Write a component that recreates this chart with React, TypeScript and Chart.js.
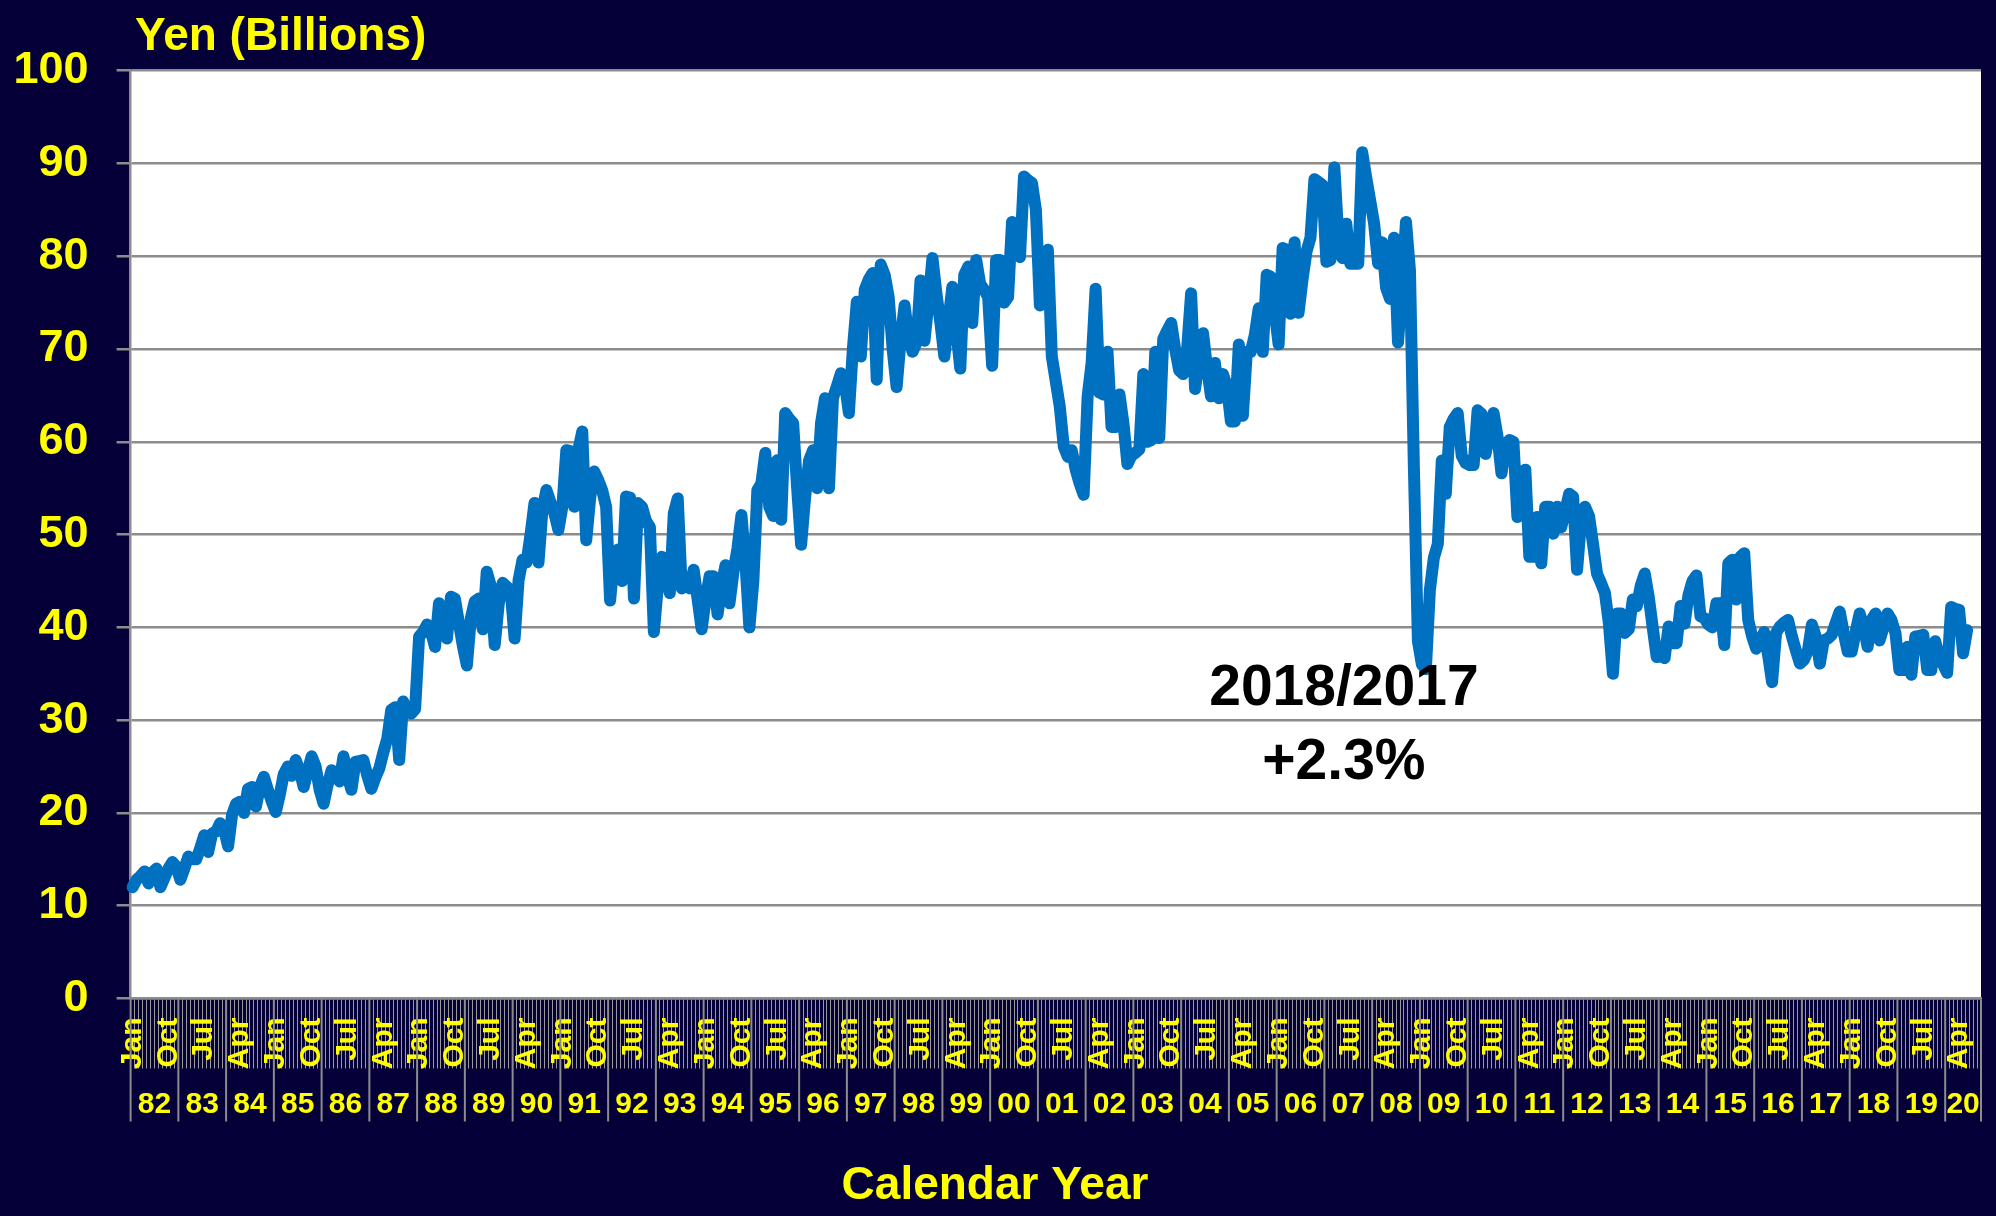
import React, { useEffect, useRef } from 'react';
import { Chart, registerables } from 'chart.js';

Chart.register(...registerables);

const FONT = '"Liberation Sans", Arial, Helvetica, sans-serif';
const NAVY = '#050038';
const YELLOW = '#ffff00';
const GRAY = '#8c8c8c';

const MONTHS = ['Jan', 'Feb', 'Mar', 'Apr', 'May', 'Jun', 'Jul', 'Aug', 'Sep', 'Oct', 'Nov', 'Dec'];
const YEAR_LABELS = ['82', '83', '84', '85', '86', '87', '88', '89', '90', '91', '92', '93', '94', '95', '96', '97', '98', '99', '00', '01', '02', '03', '04', '05', '06', '07', '08', '09', '10', '11', '12', '13', '14', '15', '16', '17', '18', '19', '20'];
const MONTHS_IN_LAST_YEAR = 9; // axis runs Jan 1982 .. Sep 2020
const LABEL_EVERY = 9;
const Y_TICKS = [0, 10, 20, 30, 40, 50, 60, 70, 80, 90, 100];

// Monthly values, Yen (Billions)
const v1982 = [12.0, 12.8, 13.2, 13.7, 12.4, 13.6, 14.0, 12.0, 13.0, 14.0, 14.7, 14.2];
const v1983 = [12.8, 14.0, 15.3, 15.0, 15.0, 16.2, 17.6, 15.8, 17.8, 18.0, 18.9, 18.2];
const v1984 = [16.4, 19.8, 21.0, 21.2, 20.0, 22.6, 22.8, 20.7, 22.8, 23.9, 22.5, 21.2];
const v1985 = [20.1, 22.0, 24.2, 25.0, 24.0, 25.7, 24.5, 22.8, 24.5, 26.1, 25.0, 22.5];
const v1986 = [21.0, 23.0, 24.6, 24.2, 23.4, 26.1, 24.0, 22.5, 25.5, 25.6, 25.7, 24.0];
const v1987 = [22.6, 23.8, 24.8, 26.5, 28.0, 31.1, 31.4, 25.7, 32.0, 31.0, 30.7, 31.2];
const v1988 = [39.0, 39.5, 40.3, 39.5, 37.9, 42.6, 41.0, 38.8, 43.3, 43.1, 40.5, 38.0];
const v1989 = [35.9, 41.0, 42.8, 43.1, 39.8, 46.0, 44.5, 38.1, 42.5, 44.8, 44.4, 44.0];
const v1990 = [38.8, 45.1, 47.3, 47.0, 50.0, 53.4, 47.0, 52.7, 54.8, 53.5, 52.3, 50.5];
const v1991 = [53.0, 59.1, 59.0, 53.0, 59.1, 61.1, 49.4, 54.0, 56.8, 55.9, 54.8, 53.0];
const v1992 = [42.9, 47.5, 48.4, 45.0, 54.1, 54.0, 43.1, 53.4, 53.0, 51.5, 50.8, 39.5];
const v1993 = [44.5, 47.6, 45.5, 43.7, 52.3, 53.9, 44.2, 44.5, 44.2, 46.2, 43.0, 39.8];
const v1994 = [43.0, 45.5, 45.5, 41.4, 44.5, 46.7, 42.6, 46.0, 48.5, 52.1, 47.0, 40.0];
const v1995 = [45.0, 54.8, 55.5, 58.8, 53.0, 52.0, 58.0, 51.6, 63.1, 62.5, 62.0, 55.0];
const v1996 = [48.9, 54.0, 58.0, 59.1, 55.0, 62.0, 64.7, 55.0, 64.7, 66.0, 67.4, 66.3];
const v1997 = [63.1, 70.0, 75.1, 69.2, 76.4, 77.5, 78.2, 66.7, 79.1, 78.0, 75.6, 70.0];
const v1998 = [65.9, 71.0, 74.7, 71.3, 69.7, 70.7, 77.4, 70.9, 75.0, 79.8, 76.0, 72.8];
const v1999 = [69.2, 73.0, 76.7, 72.0, 67.9, 78.0, 78.9, 72.8, 79.6, 77.0, 76.4, 75.6];
const v2000 = [68.2, 79.6, 79.6, 75.0, 75.6, 83.7, 80.5, 79.9, 88.6, 88.2, 87.9, 85.0];
const v2001 = [74.7, 78.0, 80.7, 69.2, 66.5, 63.8, 59.5, 58.4, 59.1, 57.0, 55.5, 54.3];
const v2002 = [64.9, 68.5, 76.5, 65.3, 65.1, 69.7, 61.6, 61.6, 65.1, 62.0, 57.6, 58.5];
const v2003 = [58.8, 59.2, 67.3, 60.0, 60.2, 69.7, 60.4, 71.1, 72.0, 72.8, 70.0, 67.7];
const v2004 = [67.3, 70.0, 76.0, 65.7, 69.0, 71.7, 68.0, 64.9, 68.5, 64.7, 67.3, 66.0];
const v2005 = [62.2, 62.2, 70.5, 62.8, 69.7, 69.7, 71.5, 74.4, 69.7, 78.0, 77.8, 74.0];
const v2006 = [70.5, 80.9, 80.7, 73.8, 81.5, 73.9, 77.5, 80.5, 82.0, 88.3, 88.0, 87.7];
const v2007 = [79.4, 79.6, 89.6, 82.0, 79.8, 83.5, 79.2, 79.2, 79.2, 91.2, 88.5, 86.0];
const v2008 = [83.5, 79.2, 81.5, 76.6, 75.4, 82.0, 70.7, 77.0, 83.7, 78.5, 57.0, 38.5];
const v2009 = [36.0, 35.5, 44.0, 47.5, 49.0, 58.0, 54.4, 61.6, 62.5, 63.1, 58.5, 57.7];
const v2010 = [57.5, 57.5, 63.4, 63.0, 58.7, 61.0, 63.1, 60.6, 56.6, 59.5, 60.2, 60.0];
const v2011 = [51.9, 55.0, 57.0, 47.6, 47.6, 51.9, 46.9, 53.0, 53.0, 50.1, 53.0, 50.8];
const v2012 = [52.5, 54.4, 54.1, 46.2, 51.5, 53.0, 52.0, 49.0, 45.8, 44.8, 43.7, 40.4];
const v2013 = [35.0, 41.5, 41.5, 39.4, 39.8, 43.0, 42.3, 44.5, 45.8, 43.3, 40.0, 36.8];
const v2014 = [36.9, 36.7, 40.1, 38.3, 38.3, 42.3, 40.4, 43.5, 45.0, 45.6, 41.2, 41.0];
const v2015 = [40.3, 40.0, 42.6, 42.6, 38.1, 46.9, 47.3, 43.0, 47.6, 48.0, 40.8, 39.0];
const v2016 = [37.7, 38.5, 39.5, 37.0, 34.1, 39.4, 40.1, 40.5, 40.8, 39.0, 37.5, 36.1];
const v2017 = [36.5, 37.5, 40.3, 39.0, 36.1, 38.6, 38.8, 39.2, 40.5, 41.7, 39.4, 37.4];
const v2018 = [37.4, 39.5, 41.5, 40.1, 37.9, 40.8, 41.5, 38.6, 40.0, 41.5, 40.8, 39.4];
const v2019 = [35.4, 35.4, 37.9, 34.9, 39.0, 39.1, 39.2, 35.4, 35.4, 38.5, 36.8, 36.0];
const v2020 = [35.1, 42.2, 42.0, 41.9, 37.2, 39.7];

const VALUES = [
  ...v1982, ...v1983, ...v1984, ...v1985, ...v1986, ...v1987, ...v1988, ...v1989,
  ...v1990, ...v1991, ...v1992, ...v1993, ...v1994, ...v1995, ...v1996, ...v1997,
  ...v1998, ...v1999, ...v2000, ...v2001, ...v2002, ...v2003, ...v2004, ...v2005,
  ...v2006, ...v2007, ...v2008, ...v2009, ...v2010, ...v2011, ...v2012, ...v2013,
  ...v2014, ...v2015, ...v2016, ...v2017, ...v2018, ...v2019, ...v2020,
];

const TITLE = 'Yen (Billions)';
const X_TITLE = 'Calendar Year';
const NOTE_LINES = ['2018/2017', '+2.3%'];
// annotation anchor in data space (category index, value of each baseline)
const NOTE_X_INDEX = 304.4;
const NOTE_Y_VALUES = [31.6, 23.7];

const CATEGORIES: string[] = [];
const YEAR_SPANS: { label: string; start: number; count: number }[] = [];
YEAR_LABELS.forEach((yl, k) => {
  const count = k === YEAR_LABELS.length - 1 ? MONTHS_IN_LAST_YEAR : 12;
  YEAR_SPANS.push({ label: yl, start: CATEGORIES.length, count });
  for (let m = 0; m < count; m++) CATEGORIES.push(`${MONTHS[m]} ${yl}`);
});
const SERIES = CATEGORIES.map((_, i) => (i < VALUES.length ? VALUES[i] : null));

const decorPlugin = {
  id: 'decor',
  beforeDraw(chart: any) {
    const { ctx, chartArea } = chart;
    ctx.save();
    ctx.fillStyle = NAVY;
    ctx.fillRect(0, 0, chart.width, chart.height);
    ctx.fillStyle = '#ffffff';
    ctx.fillRect(chartArea.left, chartArea.top, chartArea.right - chartArea.left, chartArea.bottom - chartArea.top);
    ctx.restore();
  },
  afterDraw(chart: any) {
    const { ctx, chartArea } = chart;
    const x = chart.scales.x;
    const y = chart.scales.y;
    ctx.save();
    // title
    ctx.fillStyle = YELLOW;
    ctx.font = `bold 46px ${FONT}`;
    ctx.textAlign = 'left';
    ctx.textBaseline = 'alphabetic';
    ctx.fillText(TITLE, 135, 50);

    // year separators and labels
    const step = x.getPixelForValue(1) - x.getPixelForValue(0);
    const top = chartArea.bottom + 1;
    const bottom = chartArea.bottom + 123;
    ctx.strokeStyle = GRAY;
    ctx.lineWidth = 2;
    ctx.font = `bold 30px ${FONT}`;
    ctx.textAlign = 'center';
    ctx.textBaseline = 'middle';
    YEAR_SPANS.forEach((s, k) => {
      const left = x.getPixelForValue(s.start) - step / 2;
      const right = left + s.count * step;
      ctx.beginPath();
      ctx.moveTo(left, top);
      ctx.lineTo(left, bottom);
      ctx.stroke();
      if (k === YEAR_SPANS.length - 1) {
        ctx.beginPath();
        ctx.moveTo(right, top);
        ctx.lineTo(right, bottom);
        ctx.stroke();
      }
      ctx.fillStyle = YELLOW;
      ctx.fillText(s.label, (left + right) / 2, chartArea.bottom + 106);
    });

    // axis title
    ctx.font = `bold 46px ${FONT}`;
    ctx.textBaseline = 'alphabetic';
    ctx.fillText(X_TITLE, 995, 1199);

    // annotation
    const nx = x.getPixelForValue(Math.floor(NOTE_X_INDEX)) + (NOTE_X_INDEX % 1) * step;
    ctx.fillStyle = '#000000';
    ctx.font = `bold 57px ${FONT}`;
    NOTE_LINES.forEach((t, i) => ctx.fillText(t, nx, y.getPixelForValue(NOTE_Y_VALUES[i])));
    ctx.restore();
  },
};

export default function App() {
  const ref = useRef<HTMLCanvasElement | null>(null);
  useEffect(() => {
    document.body.style.margin = '0';
    document.body.style.background = NAVY;
    const canvas = ref.current!;
    const chart = new Chart(canvas, {
      type: 'line',
      data: {
        labels: CATEGORIES,
        datasets: [
          {
            data: SERIES,
            borderColor: '#0070C0',
            borderWidth: 12,
            pointRadius: 0,
            tension: 0,
            borderJoinStyle: 'round',
            borderCapStyle: 'round',
            spanGaps: false,
          },
        ],
      },
      options: {
        responsive: false,
        animation: false,
        devicePixelRatio: 1,
        layout: { padding: { top: 70.7, left: 0, right: 15, bottom: 0 }, autoPadding: false },
        plugins: { legend: { display: false }, tooltip: { enabled: false } },
        scales: {
          x: {
            type: 'category',
            offset: true,
            ticks: {
              autoSkip: false,
              minRotation: 90,
              maxRotation: 90,
              padding: -51,
              color: YELLOW,
              font: { family: FONT, size: 30, weight: 'bold' },
              callback: (_v: any, idx: number) => (idx % LABEL_EVERY === 0 ? MONTHS[idx % 12] : ''),
            },
            grid: {
              offset: true,
              drawOnChartArea: false,
              drawTicks: true,
              tickLength: 70,
              tickColor: '#9a9a9a',
              tickWidth: 1,
            },
            border: { display: true, color: GRAY, width: 2.5 },
            afterFit: (s: any) => {
              s.height = 1216 - 998.5;
            },
          },
          y: {
            min: 0,
            max: 100,
            afterBuildTicks: (s: any) => {
              s.ticks = Y_TICKS.map((v) => ({ value: v }));
            },
            ticks: {
              padding: 28,
              color: YELLOW,
              font: { family: FONT, size: 45, weight: 'bold' },
            },
            grid: { color: GRAY, lineWidth: 2.5, tickLength: 14, drawTicks: true },
            border: { display: true, color: GRAY, width: 2.5 },
            afterFit: (s: any) => {
              s.width = 130.6;
            },
          },
        },
      },
      plugins: [decorPlugin],
    } as any);
    return () => chart.destroy();
  }, []);
  return (
    <div style={{ position: 'absolute', left: 0, top: 0, width: 1996, height: 1216, background: NAVY }}>
      <canvas ref={ref} width={1996} height={1216} style={{ display: 'block' }} />
    </div>
  );
}
